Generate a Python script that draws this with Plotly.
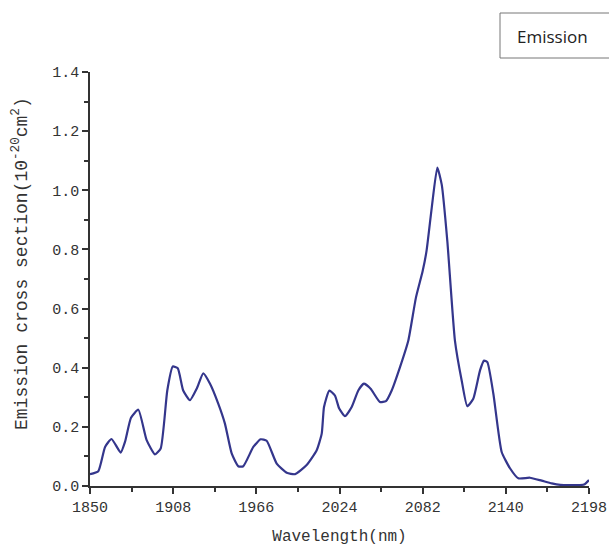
import plotly.graph_objects as go

# Wavelength (nm) and emission cross section (1e-20 cm^2)
wavelength = [1850, 1855.8, 1860.5, 1865, 1871.4, 1874.4, 1878.6, 1883.7, 1889.5, 1895.3,
              1899.3, 1903.9, 1907.7, 1911.2, 1915, 1919.7, 1924.5, 1929, 1933.7, 1939.5,
              1944.1, 1948.8, 1953.4, 1956.9, 1963.9, 1969, 1973.2, 1980.2, 1987.2, 1993,
              2001.1, 2008.1, 2011.6, 2013.2, 2016.9, 2020.8, 2023.8, 2027.8, 2032.5, 2037.1,
              2041, 2045.7, 2052.2, 2056.4, 2060.4, 2066.2, 2072, 2077.3, 2082, 2084.7,
              2088.3, 2092.2, 2095.3, 2099.2, 2104.5, 2109.2, 2113.1, 2117.3, 2122, 2124.8,
              2127.1, 2131.3, 2137.1, 2142.9, 2148.7, 2156.8, 2165, 2172, 2178, 2185,
              2191.7, 2195, 2198]
emission = [0.040, 0.050, 0.132, 0.159, 0.113, 0.149, 0.231, 0.258, 0.155, 0.107,
            0.127, 0.323, 0.404, 0.398, 0.323, 0.290, 0.330, 0.381, 0.346, 0.278,
            0.211, 0.110, 0.067, 0.067, 0.132, 0.158, 0.153, 0.076, 0.045, 0.040,
            0.071, 0.121, 0.177, 0.267, 0.323, 0.306, 0.262, 0.236, 0.267, 0.323,
            0.346, 0.329, 0.284, 0.287, 0.323, 0.402, 0.492, 0.637, 0.727, 0.795,
            0.940, 1.077, 1.019, 0.828, 0.492, 0.357, 0.270, 0.295, 0.391, 0.424,
            0.419, 0.312, 0.115, 0.060, 0.026, 0.028, 0.018, 0.009, 0.004, 0.003,
            0.003, 0.006, 0.020]

x_ticks = [1850, 1908, 1966, 2024, 2082, 2140, 2198]
y_ticks = [0.0, 0.2, 0.4, 0.6, 0.8, 1.0, 1.2, 1.4]

legend_label = "Emission"
x_title = "Wavelength(nm)"
y_title = "Emission cross section(10<sup>-20</sup>cm<sup>2</sup>)"

axis_font = "Liberation Mono"
line_color = "#34368C"
axis_color = "#333333"

L, R, T, B = 90, 20, 72, 63
W, H = 609, 549
pw, ph = W - L - R, H - T - B


def px(xf):
    return (xf - L) / pw


def py(yf):
    return 1 + (T - yf) / ph


fig = go.Figure()
fig.add_trace(go.Scatter(
    x=wavelength, y=emission, mode="lines",
    line=dict(color=line_color, width=2.2, shape="spline", smoothing=0.5),
    showlegend=False,
))

bx0, bx1, by0, by1 = px(500), px(700), py(13), py(58)
fig.update_layout(
    width=W, height=H,
    margin=dict(l=L, r=R, t=T, b=B, autoexpand=False),
    paper_bgcolor="white", plot_bgcolor="white",
    font=dict(family=axis_font, color="#333333"),
    shapes=[dict(
        type="path", xref="paper", yref="paper",
        path=f"M {bx1},{by0} L {bx0},{by0} L {bx0},{by1} L {bx1},{by1}",
        line=dict(color="#777777", width=1),
    )],
    annotations=[
        dict(
            text=legend_label, xref="paper", yref="paper",
            x=px(515), y=py(36),
            xanchor="left", yanchor="middle", showarrow=False,
            font=dict(family="Open Sans", size=17, color="#222222"),
        ),
        dict(
            text=y_title, xref="paper", yref="paper",
            x=px(20), y=py(264),
            xanchor="center", yanchor="middle", showarrow=False,
            textangle=-90,
            font=dict(family=axis_font, size=18, color="#333333"),
        ),
    ],
)

fig.update_xaxes(
    range=[1850, 2198], tickvals=x_ticks, ticktext=[str(v) for v in x_ticks],
    showline=True, linecolor=axis_color, linewidth=1.5,
    ticks="outside", ticklen=6, tickwidth=1.5, tickcolor=axis_color,
    minor=dict(ticks="outside", ticklen=4, tickwidth=1.5, tickcolor=axis_color,
               tick0=1850, dtick=29),
    showgrid=False, zeroline=False, automargin=False,
    tickfont=dict(family=axis_font, size=15, color="#333333"),
    title=dict(text=x_title, font=dict(family=axis_font, size=16, color="#333333"),
               standoff=14),
)
fig.update_yaxes(
    range=[0, 1.4], tickvals=y_ticks, ticktext=[f"{v:.1f}" for v in y_ticks],
    showline=True, linecolor=axis_color, linewidth=1.5,
    ticks="outside", ticklen=6, tickwidth=1.5, tickcolor=axis_color,
    minor=dict(ticks="outside", ticklen=4, tickwidth=1.5, tickcolor=axis_color,
               tick0=0, dtick=0.1),
    showgrid=False, zeroline=False, automargin=False,
    tickfont=dict(family=axis_font, size=15, color="#333333"),
)

fig.write_html("out.html", config={"displayModeBar": False},
               post_script="document.body.style.margin='0';")
